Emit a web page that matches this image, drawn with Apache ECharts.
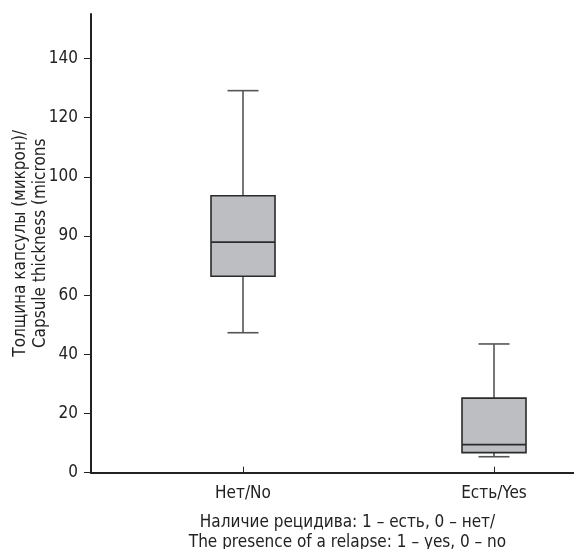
<!DOCTYPE html>
<html>
<head>
<meta charset="utf-8">
<script src="https://cdn.jsdelivr.net/npm/echarts@6/dist/echarts.min.js"></script>
<style>html,body{margin:0;padding:0;background:#fff;}#c{width:574px;height:549px;}</style>
</head>
<body>
<div id="c"></div>
<script>
var categories = ["Нет/No", "Есть/Yes"];
var catPositions = [0, 1];
var whiskerLow = [47.3, 5.4];
var q1 = [66.4, 6.8];
var median = [77.9, 9.5];
var q3 = [93.6, 25.2];
var whiskerHigh = [129.1, 43.5];
var yTickValues = [0, 20, 40, 60, 80, 100, 120, 140];
var yTickLabels = ["0", "20", "40", "60", "90", "100", "120", "140"];

var FONT = "'Liberation Sans Narrow', 'DejaVu Sans Condensed', 'Liberation Sans', sans-serif";

var boxData = catPositions.map(function (x, i) {
  return [x, whiskerLow[i], q1[i], median[i], q3[i], whiskerHigh[i]];
});

var chart = echarts.init(document.getElementById('c'), null, {renderer: 'canvas'});
chart.setOption({
  animation: false,
  backgroundColor: '#ffffff',
  grid: {left: 91, right: 0, top: 14, bottom: 76.3, containLabel: false, outerBoundsMode: 'none'},
  xAxis: {
    type: 'value',
    min: -0.6056,
    max: 1.3187,
    name: 'Наличие рецидива: 1 – есть, 0 – нет/\nThe presence of a relapse: 1 – yes, 0 – no',
    nameLocation: 'middle',
    nameGap: 40,
    nameMoveOverlap: false,
    nameTextStyle: {fontFamily: FONT, fontSize: 17, color: '#222', lineHeight: 20, padding: [0, 0, 0, 30]},
    axisLine: {show: true, onZero: false, lineStyle: {color: '#222', width: 2}},
    axisTick: {show: true, inside: true, length: 6, customValues: catPositions, lineStyle: {color: '#222', width: 1}},
    axisLabel: {
      customValues: catPositions,
      margin: 12,
      fontFamily: FONT, fontSize: 17, color: '#222',
      formatter: function (v) { var i = catPositions.indexOf(Math.round(v)); return i >= 0 ? categories[i] : ''; }
    },
    splitLine: {show: false}
  },
  yAxis: {
    type: 'value',
    min: 0,
    max: 155,
    name: 'Толщина капсулы (микрон)/\nCapsule thickness (microns',
    nameLocation: 'middle',
    nameGap: 40,
    nameRotate: 90,
    nameMoveOverlap: false,
    nameTextStyle: {fontFamily: FONT, fontSize: 17, color: '#222', lineHeight: 20},
    axisLine: {show: true, onZero: false, lineStyle: {color: '#222', width: 2}},
    axisTick: {show: true, length: 7, customValues: yTickValues, lineStyle: {color: '#222', width: 1}},
    axisLabel: {
      customValues: yTickValues,
      margin: 13,
      fontFamily: FONT, fontSize: 17, color: '#222',
      formatter: function (v) { var i = yTickValues.indexOf(Math.round(v)); return i >= 0 ? yTickLabels[i] : ''; }
    },
    splitLine: {show: false}
  },
  series: [{
    type: 'custom',
    data: boxData,
    encode: {x: 0, y: [1, 2, 3, 4, 5]},
    clip: false,
    renderItem: function (params, api) {
      var x = api.value(0);
      var pLow = api.coord([x, api.value(1)]);
      var pQ1 = api.coord([x, api.value(2)]);
      var pMed = api.coord([x, api.value(3)]);
      var pQ3 = api.coord([x, api.value(4)]);
      var pHigh = api.coord([x, api.value(5)]);
      var hw = 32, cw = 15.5;
      var cx = pLow[0];
      var wStyle = {stroke: '#555', lineWidth: 1.6, fill: null};
      var bStyle = {stroke: '#2b2b2b', lineWidth: 1.6};
      return {
        type: 'group',
        children: [
          {type: 'line', shape: {x1: cx, y1: pLow[1], x2: cx, y2: pQ1[1]}, style: wStyle},
          {type: 'line', shape: {x1: cx, y1: pQ3[1], x2: cx, y2: pHigh[1]}, style: wStyle},
          {type: 'line', shape: {x1: cx - cw, y1: pLow[1], x2: cx + cw, y2: pLow[1]}, style: wStyle},
          {type: 'line', shape: {x1: cx - cw, y1: pHigh[1], x2: cx + cw, y2: pHigh[1]}, style: wStyle},
          {type: 'rect', shape: {x: cx - hw, y: pQ3[1], width: hw * 2, height: pQ1[1] - pQ3[1]}, style: {fill: '#bdbec2', stroke: '#2b2b2b', lineWidth: 1.6}},
          {type: 'line', shape: {x1: cx - hw, y1: pMed[1], x2: cx + hw, y2: pMed[1]}, style: bStyle}
        ]
      };
    }
  }]
});
</script>
</body>
</html>
